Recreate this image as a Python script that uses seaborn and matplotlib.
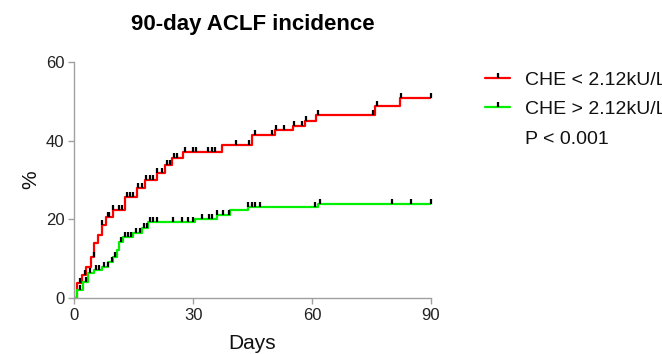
import numpy as np
import pandas as pd
import matplotlib
matplotlib.use("Agg")
import matplotlib.pyplot as plt
from matplotlib.path import Path
from matplotlib.lines import Line2D
import seaborn as sns

# cumulative incidence step curves (day of step, % after step)
red_days = [0, 0.8, 1.9, 3.0, 4.2, 5.0, 6.1, 7.0, 8.1, 9.8, 12.9, 15.8, 17.9, 20.8, 22.9,
            24.6, 27.5, 37.2, 44.8, 50.7, 55.3, 58.2, 61.0, 75.9, 82.2, 90]
red_pct = [0, 3.8, 5.9, 7.9, 10.5, 14.0, 16.0, 18.6, 20.6, 22.4, 25.7, 28.0, 30.0, 31.8, 33.8,
           35.6, 37.2, 38.9, 41.5, 42.7, 43.6, 45.0, 46.6, 48.7, 50.8, 50.8]
red_censor = [1.5, 2.8, 4.9, 7.0, 8.5, 8.9, 9.9, 11.2, 12.0, 13.3, 14.1, 14.9, 16.2, 17.1, 18.1,
              19.2, 20.0, 21.0, 22.1, 23.4, 24.2, 25.2, 26.0, 28.0, 29.9, 30.8, 33.8, 34.7, 35.5,
              40.7, 44.0, 45.5, 50.0, 51.0, 53.0, 55.5, 57.5, 58.5, 61.5, 75.3, 76.5, 82.5, 90]

green_days = [0, 0.8, 2.3, 3.6, 4.9, 7.0, 8.6, 9.8, 10.8, 11.2, 12.4, 14.9, 17.0, 18.7, 30.5,
              36.0, 39.3, 43.9, 61.5, 90]
green_pct = [0, 2.0, 4.0, 6.3, 7.1, 7.9, 9.2, 10.4, 12.2, 14.3, 15.6, 16.5, 17.8, 19.4, 20.2,
             21.2, 22.3, 23.2, 23.9, 23.9]
green_censor = [1.5, 3.0, 4.0, 5.5, 6.3, 7.5, 8.5, 9.5, 10.2, 11.8, 12.8, 13.5, 14.3, 15.5, 16.5,
                17.5, 18.5, 19.2, 20.0, 20.8, 25.0, 27.1, 28.7, 30.1, 32.2, 33.9, 34.7, 36.0, 37.6,
                39.1, 43.9, 44.8, 45.6, 46.9, 60.8, 62.0, 80.1, 85.0, 90]

labels = ["CHE < 2.12kU/L", "CHE > 2.12kU/L"]
colors = ["#ff0000", "#00f000"]

sns.set_style("white")
plt.rcParams['font.family'] = ['Liberation Sans', 'DejaVu Sans']
plt.rcParams['text.color'] = '#111111'
plt.rcParams['axes.labelcolor'] = '#111111'
plt.rcParams['xtick.color'] = '#222222'
plt.rcParams['ytick.color'] = '#222222'

fig = plt.figure(figsize=(6.62, 3.54), dpi=100)
ax = fig.add_axes([0.112, 0.158, 0.539, 0.667])

# tick mark pointing up from the curve
tick = Path([(0, 0), (0, 1)], [Path.MOVETO, Path.LINETO])

series = [(red_days, red_pct, red_censor), (green_days, green_pct, green_censor)]
for (d, p, c), col in zip(series, colors):
    df = pd.DataFrame({"day": d, "pct": p})
    sns.lineplot(data=df, x="day", y="pct", drawstyle="steps-post", estimator=None,
                 color=col, linewidth=1.6, ax=ax)
    d_arr = np.array(d)
    p_arr = np.array(p)
    idx = np.searchsorted(d_arr, c, side="right") - 1
    ax.plot(c, p_arr[idx], linestyle="none", marker=tick, color="black",
            markersize=7, markeredgewidth=1.6, clip_on=False)

ax.set_xlim(0, 90)
ax.set_ylim(0, 60)
ax.set_xticks([0, 30, 60, 90])
ax.set_yticks([0, 20, 40, 60])
ax.tick_params(axis="both", direction="out", length=4, width=1, color="#a0a0a0",
               labelsize=12, pad=3, left=True, bottom=True)
for s in ["top", "right"]:
    ax.spines[s].set_visible(False)
for s in ["left", "bottom"]:
    ax.spines[s].set_color("#a0a0a0")
    ax.spines[s].set_linewidth(1)

ax.set_xlabel("Days", fontsize=15, labelpad=8)
ax.set_ylabel("%", fontsize=15, labelpad=4)
ax.set_title("90-day ACLF incidence", fontsize=16, fontweight="bold", pad=23, color="black")

handles = [Line2D([], [], color=col, linewidth=1.6, marker=tick, markersize=7,
                  markeredgecolor="black", markeredgewidth=1.6) for col in colors]
handles.append(Line2D([], [], linestyle="none"))
ax.legend(handles, labels + ["P < 0.001"], loc="upper left", bbox_to_anchor=(1.13, 0.995),
          frameon=False, fontsize=14, handlelength=1.3, handletextpad=0.75, labelspacing=0.62,
          borderaxespad=0)

fig.savefig("out.png", dpi=100)
